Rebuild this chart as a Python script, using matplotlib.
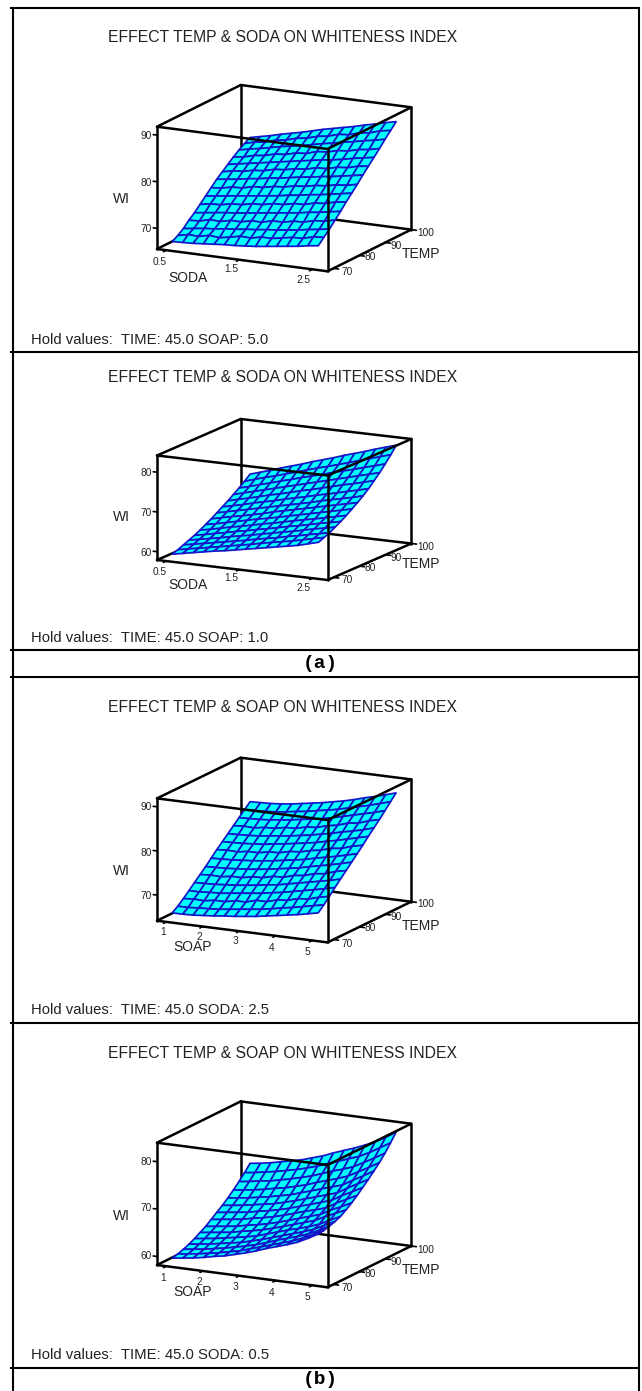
import numpy as np
import matplotlib
matplotlib.use("Agg")
import matplotlib.pyplot as plt
from mpl_toolkits.mplot3d import proj3d

W, H = 642, 1391
plt.rcParams['font.family'] = ['Liberation Sans', 'DejaVu Sans']

SODA_GRID = [0.5, 0.643, 0.786, 0.929, 1.071, 1.214, 1.357, 1.5, 1.643, 1.786, 1.929, 2.071, 2.214, 2.357, 2.5]
SOAP_GRID = [1.0, 1.286, 1.571, 1.857, 2.143, 2.429, 2.714, 3.0, 3.286, 3.571, 3.857, 4.143, 4.429, 4.714, 5.0]
TEMP_GRID = [70.0, 72.14, 74.29, 76.43, 78.57, 80.71, 82.86, 85.0, 87.14, 89.29, 91.43, 93.57, 95.71, 97.86, 100.0]

WI_A_SOAP5 = [
[66.8,66.9,67.0,67.2,67.4,67.6,67.7,67.9,68.1,68.4,68.7,69.0,69.3,69.7,70.0],
[67.5,68.0,67.9,68.4,68.2,68.6,69.1,69.0,69.5,69.5,69.9,70.3,70.4,71.0,71.2],
[68.4,68.7,69.0,69.2,69.5,69.7,70.0,70.2,70.5,70.7,71.0,71.3,71.7,72.0,72.4],
[69.6,69.7,70.3,70.2,70.7,70.7,71.2,71.2,71.8,71.8,72.3,72.4,73.0,73.2,73.7],
[70.6,70.9,71.2,71.5,71.7,72.0,72.3,72.6,72.9,73.2,73.5,73.9,74.2,74.6,75.0],
[71.8,72.2,72.3,72.8,72.9,73.4,73.5,74.0,74.1,74.6,74.7,75.3,75.5,76.1,76.4],
[73.0,73.3,73.6,73.9,74.2,74.5,74.8,75.1,75.5,75.8,76.2,76.5,76.9,77.3,77.7],
[74.2,74.4,74.9,75.0,75.6,75.7,76.2,76.4,76.9,77.1,77.6,77.8,78.3,78.5,79.0],
[75.4,75.7,76.0,76.4,76.7,77.1,77.4,77.8,78.2,78.5,78.9,79.2,79.6,80.0,80.4],
[76.4,76.9,77.1,77.6,77.8,78.4,78.6,79.1,79.3,79.9,80.0,80.6,80.8,81.4,81.7],
[77.4,77.8,78.2,78.6,79.0,79.4,79.8,80.2,80.6,81.0,81.3,81.7,82.2,82.6,83.0],
[78.4,78.7,79.3,79.6,80.2,80.4,81.0,81.2,81.9,82.1,82.7,82.9,83.5,83.8,84.3],
[79.3,79.8,80.2,80.7,81.2,81.6,82.0,82.5,83.0,83.4,83.9,84.3,84.8,85.2,85.7],
[80.1,80.7,81.0,81.7,82.0,82.7,83.0,83.7,84.0,84.7,84.9,85.6,85.9,86.6,87.0],
[80.8,81.3,81.8,82.4,82.9,83.4,84.0,84.6,85.1,85.6,86.1,86.7,87.2,87.8,88.3],
]
WI_A_SOAP1 = [
[59.0,59.5,60.0,60.5,61.0,61.4,61.9,62.4,62.9,63.4,63.9,64.4,64.9,65.6,66.3],
[59.5,60.0,60.5,61.0,61.5,62.0,62.5,63.0,63.6,64.1,64.6,65.1,65.7,66.3,66.9],
[60.1,60.6,61.1,61.6,62.1,62.6,63.1,63.7,64.2,64.7,65.3,65.8,66.4,66.9,67.5],
[60.7,61.2,61.7,62.2,62.8,63.3,63.8,64.4,64.9,65.5,66.0,66.6,67.2,67.7,68.3],
[61.3,61.8,62.4,62.9,63.5,64.0,64.6,65.1,65.7,66.3,66.8,67.4,68.0,68.5,69.1],
[62.0,62.5,63.1,63.7,64.2,64.8,65.4,65.9,66.5,67.1,67.7,68.2,68.8,69.4,70.0],
[62.8,63.3,63.9,64.5,65.1,65.7,66.2,66.8,67.4,68.0,68.6,69.2,69.8,70.4,71.0],
[63.6,64.2,64.8,65.3,65.9,66.5,67.2,67.8,68.4,69.0,69.6,70.2,70.8,71.4,72.0],
[64.5,65.1,65.7,66.3,66.9,67.5,68.1,68.7,69.3,69.9,70.6,71.2,71.8,72.4,73.1],
[65.4,66.0,66.6,67.3,67.9,68.5,69.2,69.8,70.4,71.1,71.7,72.3,73.0,73.6,74.3],
[66.3,67.0,67.6,68.3,69.0,69.6,70.3,71.0,71.6,72.3,73.0,73.7,74.3,75.0,75.7],
[67.3,68.0,68.7,69.4,70.1,70.8,71.5,72.2,72.9,73.6,74.3,75.0,75.7,76.4,77.1],
[68.3,69.0,69.8,70.5,71.3,72.0,72.8,73.5,74.2,75.0,75.7,76.4,77.2,77.9,78.7],
[69.4,70.2,71.0,71.7,72.5,73.3,74.1,74.9,75.6,76.4,77.2,78.0,78.8,79.6,80.4],
[70.6,71.4,72.2,73.1,73.9,74.7,75.6,76.4,77.2,78.1,78.9,79.7,80.6,81.4,82.2],
]
WI_B_SODA25 = [
[65.6,65.6,65.7,65.9,66.1,66.4,66.6,66.9,67.2,67.6,68.0,68.4,68.8,69.3,69.8],
[66.5,66.5,66.7,66.8,67.0,67.3,67.6,67.9,68.2,68.6,69.1,69.5,70.0,70.5,71.0],
[67.6,67.8,67.7,68.1,68.1,68.6,68.6,69.3,69.3,70.0,70.2,70.9,71.1,71.8,72.3],
[68.8,68.8,69.0,69.1,69.4,69.7,70.0,70.3,70.7,71.1,71.6,72.1,72.6,73.1,73.7],
[70.0,70.1,70.2,70.4,70.6,70.9,71.2,71.6,71.9,72.4,72.9,73.4,73.9,74.4,75.0],
[71.2,71.4,71.3,71.7,71.7,72.2,72.3,72.9,73.0,73.7,74.0,74.7,75.0,75.8,76.3],
[72.4,72.5,72.6,72.8,73.0,73.3,73.6,74.0,74.4,74.8,75.4,75.9,76.4,77.0,77.6],
[73.7,73.8,73.9,74.1,74.3,74.6,74.9,75.3,75.7,76.1,76.7,77.2,77.7,78.3,78.9],
[75.0,75.2,75.1,75.5,75.5,76.0,76.1,76.7,76.9,77.5,77.9,78.6,78.9,79.7,80.2],
[76.2,76.3,76.4,76.6,76.8,77.2,77.5,77.9,78.3,78.7,79.3,79.8,80.4,81.0,81.6],
[77.4,77.5,77.6,77.8,78.1,78.4,78.7,79.1,79.5,80.0,80.5,81.1,81.6,82.2,82.9],
[78.6,78.8,78.7,79.1,79.2,79.7,79.8,80.4,80.6,81.3,81.7,82.5,82.8,83.6,84.2],
[79.8,79.9,80.0,80.2,80.5,80.8,81.2,81.6,82.0,82.5,83.1,83.7,84.3,84.9,85.6],
[81.0,81.1,81.2,81.4,81.7,82.1,82.4,82.9,83.3,83.8,84.4,85.0,85.6,86.3,87.0],
[82.2,82.3,82.4,82.6,82.9,83.3,83.7,84.1,84.6,85.1,85.7,86.4,87.0,87.7,88.4],
]
WI_B_SODA05 = [
[59.3,59.6,59.9,60.3,60.8,61.2,61.8,62.4,63.1,63.9,64.6,65.3,66.1,67.2,68.4],
[59.6,59.9,60.2,60.6,61.0,61.5,62.0,62.7,63.4,64.1,64.8,65.5,66.4,67.4,68.6],
[60.0,60.3,60.6,61.0,61.4,61.9,62.4,63.0,63.7,64.5,65.2,65.9,66.7,67.7,68.9],
[60.5,60.8,61.1,61.5,61.9,62.3,62.9,63.5,64.2,64.9,65.6,66.3,67.1,68.2,69.3],
[61.1,61.4,61.7,62.1,62.5,62.9,63.4,64.1,64.8,65.5,66.1,66.8,67.6,68.7,69.8],
[61.8,62.1,62.4,62.7,63.2,63.6,64.1,64.7,65.4,66.1,66.8,67.5,68.6,69.6,70.6],
[62.5,62.8,63.1,63.4,63.9,64.3,64.8,65.4,66.1,66.8,67.5,68.2,69.4,70.4,71.5],
[63.4,63.7,64.0,64.3,64.8,65.2,65.7,66.3,67.0,67.7,68.3,69.0,70.3,71.4,72.5],
[64.3,64.6,64.9,65.2,65.7,66.1,66.6,67.2,67.9,68.6,69.3,70.0,71.3,72.4,73.6],
[65.2,65.5,65.8,66.2,66.6,67.0,67.6,68.2,68.9,69.6,70.3,71.0,72.3,73.5,74.7],
[66.2,66.5,66.8,67.2,67.6,68.1,68.6,69.3,70.0,70.7,71.4,72.1,73.4,74.6,75.9],
[67.3,67.6,67.9,68.3,68.8,69.2,69.8,70.4,71.2,71.9,72.6,73.4,74.6,75.8,77.1],
[68.5,68.8,69.2,69.5,70.0,70.5,71.1,71.7,72.5,73.3,74.0,74.8,76.0,77.2,78.5],
[69.8,70.1,70.5,70.9,71.4,71.9,72.5,73.2,74.0,74.8,75.6,76.4,77.5,78.8,80.1],
[71.2,71.5,71.9,72.4,72.9,73.4,74.1,74.8,75.7,76.5,77.3,78.2,79.2,80.4,81.8],
]

TITLES = ["EFFECT TEMP & SODA ON WHITENESS INDEX", "EFFECT TEMP & SODA ON WHITENESS INDEX",
          "EFFECT TEMP & SOAP ON WHITENESS INDEX", "EFFECT TEMP & SOAP ON WHITENESS INDEX"]
HOLDS = ["Hold values:  TIME: 45.0 SOAP: 5.0", "Hold values:  TIME: 45.0 SOAP: 1.0",
         "Hold values:  TIME: 45.0 SODA: 2.5", "Hold values:  TIME: 45.0 SODA: 0.5"]
X_NAMES = ["SODA", "SODA", "SOAP", "SOAP"]
X_GRIDS = [SODA_GRID, SODA_GRID, SOAP_GRID, SOAP_GRID]
SURFACES = [WI_A_SOAP5, WI_A_SOAP1, WI_B_SODA25, WI_B_SODA05]
X_TICKS = [[0.5, 1.5, 2.5], [0.5, 1.5, 2.5], [1, 2, 3, 4, 5], [1, 2, 3, 4, 5]]
X_TICKLABELS = [["0.5", "1.5", "2.5"], ["0.5", "1.5", "2.5"], ["1", "2", "3", "4", "5"], ["1", "2", "3", "4", "5"]]
T_TICKS = [70, 80, 90, 100]
Z_TICKS = [[70, 80, 90], [60, 70, 80], [70, 80, 90], [60, 70, 80]]

X_LIMS = [(0.372, 2.706), (0.372, 2.706), (0.743, 5.415), (0.743, 5.415)]
T_LIM = (67.74, 100.0)
Z_LIMS = [(65.57, 91.8), (57.9, 84.2), (64.2, 91.9), (58.2, 84.0)]

# layout, in pixels: box corner and the screen vectors of its three edges
ORIGINS = [(157, 249), (157, 560), (157, 920.7), (157, 1265)]
VEC_X = [(170.5, 22.3), (170.7, 20.0), (170.5, 21.7), (170.5, 22.3)]
VEC_T = [(83.7, -41.7), (83.7, -36.5), (83.7, -40.7), (83.7, -41.3)]
VEC_Z = [122.3, 104.5, 122.3, 122.3]

# label positions in pixels
ZOFF = [60, 395, 730, 1080]
LBL_X = [[(208,605),(425,628),(640,660)], [(208,530),(425,550),(640,578)],
         [(220,607),(328,620),(436,632),(544,653),(652,665)], [(220,595),(328,607),(436,620),(544,638),(652,650)]]
LBL_T = [[(770,637),(840,592),(918,558),(1008,520)], [(770,555),(840,518),(918,490),(1008,455)],
         [(770,642),(842,595),(918,560),(1008,523)], [(770,625),(842,582),(918,547),(1008,510)]]
LBL_Z = [[(168,508),(168,370),(168,228)], [(168,473),(168,353),(168,233)],
         [(168,497),(168,368),(168,232)], [(168,528),(168,385),(168,247)]]
LBL_WI = [(95,418), (95,367), (95,424), (95,408)]
LBL_XN = [(295,655), (295,570), (307,652), (307,636)]
LBL_TN = [(992,582), (992,508), (992,587), (992,570)]
TITLE_Y = [37, 378, 708, 1054]
HOLD_Y = [340, 638, 1010, 1355]
H_LINES = [8, 352, 650, 677, 1023, 1368]

fig = plt.figure(figsize=(W / 100, H / 100), dpi=100)
ov = fig.add_axes([0, 0, 1, 1], zorder=1)
ov.set_xlim(0, W); ov.set_ylim(H, 0); ov.axis('off')

for y in H_LINES:
    ov.plot([10, 640], [y, y], color='k', lw=1.5, solid_capstyle='butt')
ov.plot([12.5, 12.5], [8, H], color='k', lw=1.5)
ov.plot([639, 639], [8, H], color='k', lw=1.5)
ov.text(320, 663, "(a)", family='Liberation Mono', weight='bold', fontsize=14, ha='center', va='center')
ov.text(320, 1380, "(b)", family='Liberation Mono', weight='bold', fontsize=14, ha='center', va='center')

TXT = '#222222'
for p in range(4):
    off = ZOFF[p]
    def px(c):
        return 90 + c[0] / 3, off + c[1] / 3
    ov.text(108, TITLE_Y[p], TITLES[p], fontsize=11.3, ha='left', va='center', color=TXT)
    ov.text(31, HOLD_Y[p], HOLDS[p], fontsize=10.7, ha='left', va='center', color=TXT)
    for c, s in zip(LBL_X[p], X_TICKLABELS[p]):
        ov.text(*px(c), s, fontsize=7.3, ha='center', va='center', color=TXT)
    for c, s in zip(LBL_T[p], T_TICKS):
        ov.text(*px(c), str(s), fontsize=7.3, ha='center', va='center', color=TXT)
    for c, s in zip(LBL_Z[p], Z_TICKS[p]):
        ov.text(*px(c), str(s), fontsize=7.3, ha='center', va='center', color=TXT)
    ov.text(*px(LBL_WI[p]), "WI", fontsize=10, ha='center', va='center', color=TXT)
    ov.text(*px(LBL_XN[p]), X_NAMES[p], fontsize=10, ha='center', va='center', color=TXT)
    ov.text(*px(LBL_TN[p]), "TEMP", fontsize=10, ha='center', va='center', color=TXT)

    # view fitted to the oblique box
    vx, vt, vz = VEC_X[p], VEC_T[p], VEC_Z[p]
    r1 = abs(vx[1] / vx[0]); r2 = abs(vt[1] / vt[0])
    sin_e = np.sqrt(r1 * r2); tan_a = np.sqrt(r1 / r2)
    elev = np.degrees(np.arcsin(sin_e)); a = np.arctan(tan_a)
    Lx = vx[0] / np.cos(a); Ly = vt[0] / np.sin(a); Lz = vz / np.cos(np.radians(elev))

    side = 400
    ox0, oy0 = ORIGINS[p]
    ax = fig.add_axes([0.2, 0.2, side / W, side / H], projection='3d', computed_zorder=False, zorder=2)
    ax.set_proj_type('ortho')
    ax.view_init(elev=elev, azim=-90 + np.degrees(a))
    xlim, tlim, zlim = X_LIMS[p], T_LIM, Z_LIMS[p]
    ax.set_xlim(*xlim, view_margin=0); ax.set_ylim(*tlim, view_margin=0); ax.set_zlim(*zlim, view_margin=0)
    ax.set_box_aspect((Lx, Ly, Lz))
    ax.set_axis_off()
    ax.patch.set_alpha(0)

    tgt = np.array([[ox0, H - oy0], [ox0 + vx[0] + vt[0], H - (oy0 + vx[1] + vt[1])]])
    for _ in range(5):
        M = ax.get_proj()
        xs, ys, _z = proj3d.proj_transform(np.array([xlim[0], xlim[1]]), np.array([tlim[0], tlim[1]]),
                                           np.array([zlim[0], zlim[0]]), M)
        pts = ax.transData.transform(np.c_[xs, ys])
        s = (tgt[1, 0] - tgt[0, 0]) / (pts[1, 0] - pts[0, 0])
        pos = ax.get_position()
        cx, cy = pos.x0 * W, pos.y0 * H
        new_side = pos.width * W * s
        # keep the origin corner on its target after rescaling
        rel = (pts[0] - np.array([cx, cy])) * s
        nx, ny = tgt[0] - rel
        ax.set_position([nx / W, ny / H, new_side / W, new_side / H])

    x0, x1 = xlim; t0, t1 = tlim; z0, z1 = zlim
    def seg(a_, b_, z_order, lw=1.8):
        ax.plot([a_[0], b_[0]], [a_[1], b_[1]], [a_[2], b_[2]], color='k', lw=lw, zorder=z_order,
                clip_on=False, solid_capstyle='round')
    for a_, b_ in [((x0,t1,z0),(x1,t1,z0)), ((x0,t0,z0),(x0,t1,z0)), ((x0,t1,z0),(x0,t1,z1)),
                   ((x1,t1,z0),(x1,t1,z1)), ((x0,t1,z1),(x1,t1,z1)), ((x0,t0,z1),(x0,t1,z1))]:
        seg(a_, b_, 1)

    XX, TT = np.meshgrid(X_GRIDS[p], TEMP_GRID)
    surf = ax.plot_surface(XX, TT, np.array(SURFACES[p]), rstride=1, cstride=1, color='#00FFFF',
                           edgecolor='#1414C8', linewidth=1.25, shade=False, zorder=2, antialiased=True)
    surf.set_clip_on(False)

    for a_, b_ in [((x0,t0,z0),(x1,t0,z0)), ((x0,t0,z1),(x1,t0,z1)), ((x0,t0,z0),(x0,t0,z1)),
                   ((x1,t0,z0),(x1,t0,z1)), ((x1,t0,z0),(x1,t1,z0)), ((x1,t0,z1),(x1,t1,z1))]:
        seg(a_, b_, 3)

    dx = x1 - x0; dt = t1 - t0; dz = z1 - z0
    for v in X_TICKS[p]:
        seg((v, t0, z0), (v, t0 - 0.035 * dt, z0), 3, lw=1.2)
    for v in T_TICKS:
        seg((x1, v, z0), (x1 + 0.03 * dx, v, z0), 3, lw=1.2)
    for v in Z_TICKS[p]:
        seg((x0, t0, v), (x0 - 0.022 * dx, t0, v), 3, lw=1.2)

fig.savefig("out.png", dpi=100, facecolor='white')
